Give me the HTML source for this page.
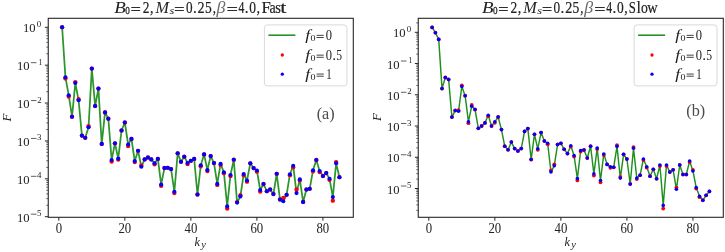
<!DOCTYPE html><html><head><meta charset="utf-8"><style>html,body{margin:0;padding:0;background:#fff;overflow:hidden;}svg{display:block;filter:blur(0.35px);}text{font-family:"Liberation Serif",serif;fill:#222;}.it{font-style:italic;}</style></head><body>
<svg width="725" height="252" viewBox="0 0 725 252">
<rect width="725" height="252" fill="#fff"/>
<polyline points="62.12,27.2 65.42,77.2 68.72,95.2 72.02,116.7 75.32,83 78.62,100.3 81.92,135.6 85.23,137.8 88.53,127.2 91.83,68.6 95.13,106 98.43,88.6 101.73,143.9 105.03,112.4 108.34,118.7 111.64,160 114.94,143.3 118.24,158.6 121.54,130.5 124.84,122.5 128.14,144.5 131.45,138.9 134.75,161.1 138.05,150.8 141.35,166.7 144.65,159.4 147.95,157.5 151.25,159.4 154.56,163.3 157.86,158.9 161.16,184.6 164.46,168 167.76,167.8 171.06,169.1 174.36,191.7 177.67,153.3 180.97,161.8 184.27,156.7 187.57,163 190.87,160.8 194.17,158.9 197.47,194.5 200.78,165.3 204.08,154.4 207.38,170 210.68,156.1 213.98,163.1 217.28,183.9 220.58,163.9 223.88,172.2 227.19,206.4 230.49,175 233.79,159.7 237.09,202.6 240.39,196.4 243.69,174 246.99,180.5 250.3,163.3 253.6,168.1 256.9,170.5 260.2,190 263.5,184 266.8,191.2 270.1,189.5 273.41,194 276.71,173.8 280.01,199.5 283.31,201.2 286.61,194.8 289.91,174.2 293.21,165.7 296.52,193.1 299.82,179.4 303.12,201.9 306.42,189.5 309.72,188.8 313.02,170.3 316.32,160 319.63,171 322.93,176 326.23,173.1 329.53,178.8 332.83,197.1 336.13,163.3 339.43,177.2" fill="none" stroke="#2c952c" stroke-width="1.75" stroke-linejoin="round"/>
<circle cx="62.12" cy="27.2" r="2.17" fill="#f00"/>
<circle cx="65.42" cy="78.4" r="2.17" fill="#f00"/>
<circle cx="68.72" cy="96.5" r="2.17" fill="#f00"/>
<circle cx="72.02" cy="116.7" r="2.17" fill="#f00"/>
<circle cx="75.32" cy="82.1" r="2.17" fill="#f00"/>
<circle cx="78.62" cy="99.2" r="2.17" fill="#f00"/>
<circle cx="81.92" cy="135.6" r="2.17" fill="#f00"/>
<circle cx="85.23" cy="137.8" r="2.17" fill="#f00"/>
<circle cx="88.53" cy="126.2" r="2.17" fill="#f00"/>
<circle cx="91.83" cy="68.6" r="2.17" fill="#f00"/>
<circle cx="95.13" cy="106" r="2.17" fill="#f00"/>
<circle cx="98.43" cy="88.6" r="2.17" fill="#f00"/>
<circle cx="101.73" cy="143.9" r="2.17" fill="#f00"/>
<circle cx="105.03" cy="112.4" r="2.17" fill="#f00"/>
<circle cx="108.34" cy="118.7" r="2.17" fill="#f00"/>
<circle cx="111.64" cy="161.5" r="2.17" fill="#f00"/>
<circle cx="114.94" cy="143.3" r="2.17" fill="#f00"/>
<circle cx="118.24" cy="159.6" r="2.17" fill="#f00"/>
<circle cx="121.54" cy="130.5" r="2.17" fill="#f00"/>
<circle cx="124.84" cy="122.5" r="2.17" fill="#f00"/>
<circle cx="128.14" cy="146" r="2.17" fill="#f00"/>
<circle cx="131.45" cy="138.9" r="2.17" fill="#f00"/>
<circle cx="134.75" cy="162.1" r="2.17" fill="#f00"/>
<circle cx="138.05" cy="150.8" r="2.17" fill="#f00"/>
<circle cx="141.35" cy="165.5" r="2.17" fill="#f00"/>
<circle cx="144.65" cy="159.4" r="2.17" fill="#f00"/>
<circle cx="147.95" cy="157.5" r="2.17" fill="#f00"/>
<circle cx="151.25" cy="159.4" r="2.17" fill="#f00"/>
<circle cx="154.56" cy="164.3" r="2.17" fill="#f00"/>
<circle cx="157.86" cy="158.9" r="2.17" fill="#f00"/>
<circle cx="161.16" cy="185.8" r="2.17" fill="#f00"/>
<circle cx="164.46" cy="168" r="2.17" fill="#f00"/>
<circle cx="167.76" cy="167.8" r="2.17" fill="#f00"/>
<circle cx="171.06" cy="169.1" r="2.17" fill="#f00"/>
<circle cx="174.36" cy="193" r="2.17" fill="#f00"/>
<circle cx="177.67" cy="153.3" r="2.17" fill="#f00"/>
<circle cx="180.97" cy="161.8" r="2.17" fill="#f00"/>
<circle cx="184.27" cy="156.7" r="2.17" fill="#f00"/>
<circle cx="187.57" cy="164" r="2.17" fill="#f00"/>
<circle cx="190.87" cy="160.8" r="2.17" fill="#f00"/>
<circle cx="194.17" cy="158.9" r="2.17" fill="#f00"/>
<circle cx="197.47" cy="194.5" r="2.17" fill="#f00"/>
<circle cx="200.78" cy="166.3" r="2.17" fill="#f00"/>
<circle cx="204.08" cy="154.4" r="2.17" fill="#f00"/>
<circle cx="207.38" cy="171" r="2.17" fill="#f00"/>
<circle cx="210.68" cy="156.1" r="2.17" fill="#f00"/>
<circle cx="213.98" cy="163.1" r="2.17" fill="#f00"/>
<circle cx="217.28" cy="184.9" r="2.17" fill="#f00"/>
<circle cx="220.58" cy="164.9" r="2.17" fill="#f00"/>
<circle cx="223.88" cy="173.2" r="2.17" fill="#f00"/>
<circle cx="227.19" cy="208.6" r="2.17" fill="#f00"/>
<circle cx="230.49" cy="176" r="2.17" fill="#f00"/>
<circle cx="233.79" cy="159.7" r="2.17" fill="#f00"/>
<circle cx="237.09" cy="202.1" r="2.17" fill="#f00"/>
<circle cx="240.39" cy="195.2" r="2.17" fill="#f00"/>
<circle cx="243.69" cy="175.2" r="2.17" fill="#f00"/>
<circle cx="246.99" cy="181.7" r="2.17" fill="#f00"/>
<circle cx="250.3" cy="163.3" r="2.17" fill="#f00"/>
<circle cx="253.6" cy="168.1" r="2.17" fill="#f00"/>
<circle cx="256.9" cy="171.5" r="2.17" fill="#f00"/>
<circle cx="260.2" cy="191.5" r="2.17" fill="#f00"/>
<circle cx="263.5" cy="184" r="2.17" fill="#f00"/>
<circle cx="266.8" cy="191.2" r="2.17" fill="#f00"/>
<circle cx="270.1" cy="189.5" r="2.17" fill="#f00"/>
<circle cx="273.41" cy="194" r="2.17" fill="#f00"/>
<circle cx="276.71" cy="173.8" r="2.17" fill="#f00"/>
<circle cx="280.01" cy="199.5" r="2.17" fill="#f00"/>
<circle cx="283.31" cy="197.9" r="2.17" fill="#f00"/>
<circle cx="286.61" cy="194.8" r="2.17" fill="#f00"/>
<circle cx="289.91" cy="175.2" r="2.17" fill="#f00"/>
<circle cx="293.21" cy="167.2" r="2.17" fill="#f00"/>
<circle cx="296.52" cy="189.5" r="2.17" fill="#f00"/>
<circle cx="299.82" cy="180.4" r="2.17" fill="#f00"/>
<circle cx="303.12" cy="201.9" r="2.17" fill="#f00"/>
<circle cx="306.42" cy="189.5" r="2.17" fill="#f00"/>
<circle cx="309.72" cy="188.8" r="2.17" fill="#f00"/>
<circle cx="313.02" cy="171.3" r="2.17" fill="#f00"/>
<circle cx="316.32" cy="160" r="2.17" fill="#f00"/>
<circle cx="319.63" cy="172" r="2.17" fill="#f00"/>
<circle cx="322.93" cy="176" r="2.17" fill="#f00"/>
<circle cx="326.23" cy="173.1" r="2.17" fill="#f00"/>
<circle cx="329.53" cy="179.8" r="2.17" fill="#f00"/>
<circle cx="332.83" cy="200.7" r="2.17" fill="#f00"/>
<circle cx="336.13" cy="162.1" r="2.17" fill="#f00"/>
<circle cx="339.43" cy="177.2" r="2.17" fill="#f00"/>
<circle cx="62.12" cy="27.2" r="2.05" fill="#00f"/>
<circle cx="65.42" cy="77.2" r="2.05" fill="#00f"/>
<circle cx="68.72" cy="95.2" r="2.05" fill="#00f"/>
<circle cx="72.02" cy="116.7" r="2.05" fill="#00f"/>
<circle cx="75.32" cy="83" r="2.05" fill="#00f"/>
<circle cx="78.62" cy="100.3" r="2.05" fill="#00f"/>
<circle cx="81.92" cy="135.6" r="2.05" fill="#00f"/>
<circle cx="85.23" cy="137.8" r="2.05" fill="#00f"/>
<circle cx="88.53" cy="127.2" r="2.05" fill="#00f"/>
<circle cx="91.83" cy="68.6" r="2.05" fill="#00f"/>
<circle cx="95.13" cy="106" r="2.05" fill="#00f"/>
<circle cx="98.43" cy="88.6" r="2.05" fill="#00f"/>
<circle cx="101.73" cy="143.9" r="2.05" fill="#00f"/>
<circle cx="105.03" cy="112.4" r="2.05" fill="#00f"/>
<circle cx="108.34" cy="118.7" r="2.05" fill="#00f"/>
<circle cx="111.64" cy="160" r="2.05" fill="#00f"/>
<circle cx="114.94" cy="143.3" r="2.05" fill="#00f"/>
<circle cx="118.24" cy="158.6" r="2.05" fill="#00f"/>
<circle cx="121.54" cy="130.5" r="2.05" fill="#00f"/>
<circle cx="124.84" cy="122.5" r="2.05" fill="#00f"/>
<circle cx="128.14" cy="144.5" r="2.05" fill="#00f"/>
<circle cx="131.45" cy="138.9" r="2.05" fill="#00f"/>
<circle cx="134.75" cy="161.1" r="2.05" fill="#00f"/>
<circle cx="138.05" cy="150.8" r="2.05" fill="#00f"/>
<circle cx="141.35" cy="166.7" r="2.05" fill="#00f"/>
<circle cx="144.65" cy="159.4" r="2.05" fill="#00f"/>
<circle cx="147.95" cy="157.5" r="2.05" fill="#00f"/>
<circle cx="151.25" cy="159.4" r="2.05" fill="#00f"/>
<circle cx="154.56" cy="163.3" r="2.05" fill="#00f"/>
<circle cx="157.86" cy="158.9" r="2.05" fill="#00f"/>
<circle cx="161.16" cy="184.6" r="2.05" fill="#00f"/>
<circle cx="164.46" cy="168" r="2.05" fill="#00f"/>
<circle cx="167.76" cy="167.8" r="2.05" fill="#00f"/>
<circle cx="171.06" cy="169.1" r="2.05" fill="#00f"/>
<circle cx="174.36" cy="191.7" r="2.05" fill="#00f"/>
<circle cx="177.67" cy="153.3" r="2.05" fill="#00f"/>
<circle cx="180.97" cy="161.8" r="2.05" fill="#00f"/>
<circle cx="184.27" cy="156.7" r="2.05" fill="#00f"/>
<circle cx="187.57" cy="163" r="2.05" fill="#00f"/>
<circle cx="190.87" cy="160.8" r="2.05" fill="#00f"/>
<circle cx="194.17" cy="158.9" r="2.05" fill="#00f"/>
<circle cx="197.47" cy="194.5" r="2.05" fill="#00f"/>
<circle cx="200.78" cy="165.3" r="2.05" fill="#00f"/>
<circle cx="204.08" cy="154.4" r="2.05" fill="#00f"/>
<circle cx="207.38" cy="170" r="2.05" fill="#00f"/>
<circle cx="210.68" cy="156.1" r="2.05" fill="#00f"/>
<circle cx="213.98" cy="163.1" r="2.05" fill="#00f"/>
<circle cx="217.28" cy="183.9" r="2.05" fill="#00f"/>
<circle cx="220.58" cy="163.9" r="2.05" fill="#00f"/>
<circle cx="223.88" cy="172.2" r="2.05" fill="#00f"/>
<circle cx="227.19" cy="206.4" r="2.05" fill="#00f"/>
<circle cx="230.49" cy="175" r="2.05" fill="#00f"/>
<circle cx="233.79" cy="159.7" r="2.05" fill="#00f"/>
<circle cx="237.09" cy="202.6" r="2.05" fill="#00f"/>
<circle cx="240.39" cy="196.4" r="2.05" fill="#00f"/>
<circle cx="243.69" cy="174" r="2.05" fill="#00f"/>
<circle cx="246.99" cy="180.5" r="2.05" fill="#00f"/>
<circle cx="250.3" cy="163.3" r="2.05" fill="#00f"/>
<circle cx="253.6" cy="168.1" r="2.05" fill="#00f"/>
<circle cx="256.9" cy="170.5" r="2.05" fill="#00f"/>
<circle cx="260.2" cy="190" r="2.05" fill="#00f"/>
<circle cx="263.5" cy="184" r="2.05" fill="#00f"/>
<circle cx="266.8" cy="191.2" r="2.05" fill="#00f"/>
<circle cx="270.1" cy="189.5" r="2.05" fill="#00f"/>
<circle cx="273.41" cy="194" r="2.05" fill="#00f"/>
<circle cx="276.71" cy="173.8" r="2.05" fill="#00f"/>
<circle cx="280.01" cy="199.5" r="2.05" fill="#00f"/>
<circle cx="283.31" cy="201.2" r="2.05" fill="#00f"/>
<circle cx="286.61" cy="194.8" r="2.05" fill="#00f"/>
<circle cx="289.91" cy="174.2" r="2.05" fill="#00f"/>
<circle cx="293.21" cy="165.7" r="2.05" fill="#00f"/>
<circle cx="296.52" cy="193.1" r="2.05" fill="#00f"/>
<circle cx="299.82" cy="179.4" r="2.05" fill="#00f"/>
<circle cx="303.12" cy="201.9" r="2.05" fill="#00f"/>
<circle cx="306.42" cy="189.5" r="2.05" fill="#00f"/>
<circle cx="309.72" cy="188.8" r="2.05" fill="#00f"/>
<circle cx="313.02" cy="170.3" r="2.05" fill="#00f"/>
<circle cx="316.32" cy="160" r="2.05" fill="#00f"/>
<circle cx="319.63" cy="171" r="2.05" fill="#00f"/>
<circle cx="322.93" cy="176" r="2.05" fill="#00f"/>
<circle cx="326.23" cy="173.1" r="2.05" fill="#00f"/>
<circle cx="329.53" cy="178.8" r="2.05" fill="#00f"/>
<circle cx="332.83" cy="197.1" r="2.05" fill="#00f"/>
<circle cx="336.13" cy="163.3" r="2.05" fill="#00f"/>
<circle cx="339.43" cy="177.2" r="2.05" fill="#00f"/>
<rect x="48.25" y="18.3" width="305.05" height="199" fill="none" stroke="#262626" stroke-width="1.1"/>
<line x1="58.81" y1="217.3" x2="58.81" y2="220.7" stroke="#262626" stroke-width="1"/>
<line x1="124.84" y1="217.3" x2="124.84" y2="220.7" stroke="#262626" stroke-width="1"/>
<line x1="190.87" y1="217.3" x2="190.87" y2="220.7" stroke="#262626" stroke-width="1"/>
<line x1="256.9" y1="217.3" x2="256.9" y2="220.7" stroke="#262626" stroke-width="1"/>
<line x1="322.93" y1="217.3" x2="322.93" y2="220.7" stroke="#262626" stroke-width="1"/>
<line x1="44.85" y1="27.3" x2="48.25" y2="27.3" stroke="#262626" stroke-width="1"/>
<line x1="44.85" y1="65.18" x2="48.25" y2="65.18" stroke="#262626" stroke-width="1"/>
<line x1="30.95" y1="62.68" x2="36.45" y2="62.68" stroke="#222" stroke-width="0.72"/>
<line x1="44.85" y1="103.06" x2="48.25" y2="103.06" stroke="#262626" stroke-width="1"/>
<line x1="30.95" y1="100.56" x2="36.45" y2="100.56" stroke="#222" stroke-width="0.72"/>
<line x1="44.85" y1="140.94" x2="48.25" y2="140.94" stroke="#262626" stroke-width="1"/>
<line x1="30.95" y1="138.44" x2="36.45" y2="138.44" stroke="#222" stroke-width="0.72"/>
<line x1="44.85" y1="178.82" x2="48.25" y2="178.82" stroke="#262626" stroke-width="1"/>
<line x1="30.95" y1="176.32" x2="36.45" y2="176.32" stroke="#222" stroke-width="0.72"/>
<line x1="44.85" y1="216.7" x2="48.25" y2="216.7" stroke="#262626" stroke-width="1"/>
<line x1="30.95" y1="214.2" x2="36.45" y2="214.2" stroke="#222" stroke-width="0.72"/>
<line x1="46.25" y1="53.78" x2="48.25" y2="53.78" stroke="#262626" stroke-width="0.7"/>
<line x1="46.25" y1="47.11" x2="48.25" y2="47.11" stroke="#262626" stroke-width="0.7"/>
<line x1="46.25" y1="42.37" x2="48.25" y2="42.37" stroke="#262626" stroke-width="0.7"/>
<line x1="46.25" y1="38.7" x2="48.25" y2="38.7" stroke="#262626" stroke-width="0.7"/>
<line x1="46.25" y1="35.7" x2="48.25" y2="35.7" stroke="#262626" stroke-width="0.7"/>
<line x1="46.25" y1="33.17" x2="48.25" y2="33.17" stroke="#262626" stroke-width="0.7"/>
<line x1="46.25" y1="30.97" x2="48.25" y2="30.97" stroke="#262626" stroke-width="0.7"/>
<line x1="46.25" y1="29.03" x2="48.25" y2="29.03" stroke="#262626" stroke-width="0.7"/>
<line x1="46.25" y1="91.66" x2="48.25" y2="91.66" stroke="#262626" stroke-width="0.7"/>
<line x1="46.25" y1="84.99" x2="48.25" y2="84.99" stroke="#262626" stroke-width="0.7"/>
<line x1="46.25" y1="80.25" x2="48.25" y2="80.25" stroke="#262626" stroke-width="0.7"/>
<line x1="46.25" y1="76.58" x2="48.25" y2="76.58" stroke="#262626" stroke-width="0.7"/>
<line x1="46.25" y1="73.58" x2="48.25" y2="73.58" stroke="#262626" stroke-width="0.7"/>
<line x1="46.25" y1="71.05" x2="48.25" y2="71.05" stroke="#262626" stroke-width="0.7"/>
<line x1="46.25" y1="68.85" x2="48.25" y2="68.85" stroke="#262626" stroke-width="0.7"/>
<line x1="46.25" y1="66.91" x2="48.25" y2="66.91" stroke="#262626" stroke-width="0.7"/>
<line x1="46.25" y1="129.54" x2="48.25" y2="129.54" stroke="#262626" stroke-width="0.7"/>
<line x1="46.25" y1="122.87" x2="48.25" y2="122.87" stroke="#262626" stroke-width="0.7"/>
<line x1="46.25" y1="118.13" x2="48.25" y2="118.13" stroke="#262626" stroke-width="0.7"/>
<line x1="46.25" y1="114.46" x2="48.25" y2="114.46" stroke="#262626" stroke-width="0.7"/>
<line x1="46.25" y1="111.46" x2="48.25" y2="111.46" stroke="#262626" stroke-width="0.7"/>
<line x1="46.25" y1="108.93" x2="48.25" y2="108.93" stroke="#262626" stroke-width="0.7"/>
<line x1="46.25" y1="106.73" x2="48.25" y2="106.73" stroke="#262626" stroke-width="0.7"/>
<line x1="46.25" y1="104.79" x2="48.25" y2="104.79" stroke="#262626" stroke-width="0.7"/>
<line x1="46.25" y1="167.42" x2="48.25" y2="167.42" stroke="#262626" stroke-width="0.7"/>
<line x1="46.25" y1="160.75" x2="48.25" y2="160.75" stroke="#262626" stroke-width="0.7"/>
<line x1="46.25" y1="156.01" x2="48.25" y2="156.01" stroke="#262626" stroke-width="0.7"/>
<line x1="46.25" y1="152.34" x2="48.25" y2="152.34" stroke="#262626" stroke-width="0.7"/>
<line x1="46.25" y1="149.34" x2="48.25" y2="149.34" stroke="#262626" stroke-width="0.7"/>
<line x1="46.25" y1="146.81" x2="48.25" y2="146.81" stroke="#262626" stroke-width="0.7"/>
<line x1="46.25" y1="144.61" x2="48.25" y2="144.61" stroke="#262626" stroke-width="0.7"/>
<line x1="46.25" y1="142.67" x2="48.25" y2="142.67" stroke="#262626" stroke-width="0.7"/>
<line x1="46.25" y1="205.3" x2="48.25" y2="205.3" stroke="#262626" stroke-width="0.7"/>
<line x1="46.25" y1="198.63" x2="48.25" y2="198.63" stroke="#262626" stroke-width="0.7"/>
<line x1="46.25" y1="193.89" x2="48.25" y2="193.89" stroke="#262626" stroke-width="0.7"/>
<line x1="46.25" y1="190.22" x2="48.25" y2="190.22" stroke="#262626" stroke-width="0.7"/>
<line x1="46.25" y1="187.22" x2="48.25" y2="187.22" stroke="#262626" stroke-width="0.7"/>
<line x1="46.25" y1="184.69" x2="48.25" y2="184.69" stroke="#262626" stroke-width="0.7"/>
<line x1="46.25" y1="182.49" x2="48.25" y2="182.49" stroke="#262626" stroke-width="0.7"/>
<line x1="46.25" y1="180.55" x2="48.25" y2="180.55" stroke="#262626" stroke-width="0.7"/>
<rect x="264.4" y="24.9" width="82.5" height="61" rx="3" fill="#fff" fill-opacity="0.8" stroke="#d9d9d9" stroke-width="1"/>
<line x1="268.4" y1="35.2" x2="295.4" y2="35.2" stroke="#1c8c1c" stroke-width="1.5"/>
<circle cx="282.3" cy="55" r="1.65" fill="#f00"/>
<circle cx="282.3" cy="74.2" r="1.65" fill="#00f"/>
<text x="325.7" y="118.6" font-size="16.2" text-anchor="middle" style="fill:#4a4a4a">(a)</text>
<text class="it" transform="translate(10.8,117.5) rotate(-90)" font-size="13" text-anchor="middle">F</text>
<polyline points="432.12,27.4 435.42,32.7 438.72,39.4 442.02,88.6 445.32,77.5 448.62,79.5 451.92,117.1 455.23,110.5 458.53,111.2 461.83,86.5 465.13,95.7 468.43,121.7 471.73,106.2 475.03,109.5 478.34,128.3 481.64,126 484.94,122.9 488.24,115.2 491.54,126 494.84,121.8 498.14,117 501.45,129.6 504.75,146.2 508.05,149.8 511.35,142.1 514.65,148.6 517.95,151 521.25,148.6 524.56,131.4 527.86,128.6 531.16,159.5 534.46,134.3 537.76,148.8 541.06,132.6 544.36,141 547.67,143.3 550.97,171.9 554.27,165.8 557.57,144.5 560.87,143.3 564.17,149.3 567.47,153.6 570.77,145.7 574.08,155.6 577.38,178.6 580.68,150.5 583.98,150 587.28,158 590.58,146.2 593.88,173.8 597.19,148.1 600.49,180.5 603.79,154 607.09,164.4 610.39,166.8 613.69,167.3 616.99,146.4 620.3,178.1 623.6,154.3 626.9,159 630.2,184 633.5,148.3 636.8,178.1 640.1,175.2 643.41,159 646.71,166.7 650.01,176.2 653.31,169.3 656.61,178.8 659.91,165 663.21,205.4 666.52,165 669.82,172.1 673.12,169.8 676.42,189.3 679.72,165 683.02,174.5 686.32,174.5 689.63,161 692.93,171 696.23,187.6 699.53,196.2 702.83,200.3 706.13,195.3 709.43,191.4" fill="none" stroke="#1f8f1f" stroke-width="1.45" stroke-linejoin="round"/>
<circle cx="432.12" cy="27.4" r="1.92" fill="#f00"/>
<circle cx="435.42" cy="32.7" r="1.92" fill="#f00"/>
<circle cx="438.72" cy="39.4" r="1.92" fill="#f00"/>
<circle cx="442.02" cy="88.6" r="1.92" fill="#f00"/>
<circle cx="445.32" cy="77.5" r="1.92" fill="#f00"/>
<circle cx="448.62" cy="79.5" r="1.92" fill="#f00"/>
<circle cx="451.92" cy="117.1" r="1.92" fill="#f00"/>
<circle cx="455.23" cy="110.5" r="1.92" fill="#f00"/>
<circle cx="458.53" cy="110.2" r="1.92" fill="#f00"/>
<circle cx="461.83" cy="85.3" r="1.92" fill="#f00"/>
<circle cx="465.13" cy="95.7" r="1.92" fill="#f00"/>
<circle cx="468.43" cy="123.2" r="1.92" fill="#f00"/>
<circle cx="471.73" cy="105" r="1.92" fill="#f00"/>
<circle cx="475.03" cy="109.5" r="1.92" fill="#f00"/>
<circle cx="478.34" cy="128.3" r="1.92" fill="#f00"/>
<circle cx="481.64" cy="126" r="1.92" fill="#f00"/>
<circle cx="484.94" cy="122.9" r="1.92" fill="#f00"/>
<circle cx="488.24" cy="116.2" r="1.92" fill="#f00"/>
<circle cx="491.54" cy="126" r="1.92" fill="#f00"/>
<circle cx="494.84" cy="122.8" r="1.92" fill="#f00"/>
<circle cx="498.14" cy="117" r="1.92" fill="#f00"/>
<circle cx="501.45" cy="129.6" r="1.92" fill="#f00"/>
<circle cx="504.75" cy="146.2" r="1.92" fill="#f00"/>
<circle cx="508.05" cy="149.8" r="1.92" fill="#f00"/>
<circle cx="511.35" cy="142.1" r="1.92" fill="#f00"/>
<circle cx="514.65" cy="148.6" r="1.92" fill="#f00"/>
<circle cx="517.95" cy="151" r="1.92" fill="#f00"/>
<circle cx="521.25" cy="148.6" r="1.92" fill="#f00"/>
<circle cx="524.56" cy="131.4" r="1.92" fill="#f00"/>
<circle cx="527.86" cy="128.6" r="1.92" fill="#f00"/>
<circle cx="531.16" cy="159.5" r="1.92" fill="#f00"/>
<circle cx="534.46" cy="134.3" r="1.92" fill="#f00"/>
<circle cx="537.76" cy="149.8" r="1.92" fill="#f00"/>
<circle cx="541.06" cy="132.6" r="1.92" fill="#f00"/>
<circle cx="544.36" cy="141" r="1.92" fill="#f00"/>
<circle cx="547.67" cy="144.3" r="1.92" fill="#f00"/>
<circle cx="550.97" cy="170.4" r="1.92" fill="#f00"/>
<circle cx="554.27" cy="164.3" r="1.92" fill="#f00"/>
<circle cx="557.57" cy="144.5" r="1.92" fill="#f00"/>
<circle cx="560.87" cy="143.3" r="1.92" fill="#f00"/>
<circle cx="564.17" cy="149.3" r="1.92" fill="#f00"/>
<circle cx="567.47" cy="153.6" r="1.92" fill="#f00"/>
<circle cx="570.77" cy="146.7" r="1.92" fill="#f00"/>
<circle cx="574.08" cy="156.6" r="1.92" fill="#f00"/>
<circle cx="577.38" cy="180.4" r="1.92" fill="#f00"/>
<circle cx="580.68" cy="151.5" r="1.92" fill="#f00"/>
<circle cx="583.98" cy="150" r="1.92" fill="#f00"/>
<circle cx="587.28" cy="158" r="1.92" fill="#f00"/>
<circle cx="590.58" cy="146.2" r="1.92" fill="#f00"/>
<circle cx="593.88" cy="175.6" r="1.92" fill="#f00"/>
<circle cx="597.19" cy="149.1" r="1.92" fill="#f00"/>
<circle cx="600.49" cy="182.3" r="1.92" fill="#f00"/>
<circle cx="603.79" cy="155" r="1.92" fill="#f00"/>
<circle cx="607.09" cy="164.4" r="1.92" fill="#f00"/>
<circle cx="610.39" cy="167.8" r="1.92" fill="#f00"/>
<circle cx="613.69" cy="167.3" r="1.92" fill="#f00"/>
<circle cx="616.99" cy="145.2" r="1.92" fill="#f00"/>
<circle cx="620.3" cy="176.9" r="1.92" fill="#f00"/>
<circle cx="623.6" cy="154.3" r="1.92" fill="#f00"/>
<circle cx="626.9" cy="159" r="1.92" fill="#f00"/>
<circle cx="630.2" cy="184" r="1.92" fill="#f00"/>
<circle cx="633.5" cy="147.1" r="1.92" fill="#f00"/>
<circle cx="636.8" cy="179.1" r="1.92" fill="#f00"/>
<circle cx="640.1" cy="175.2" r="1.92" fill="#f00"/>
<circle cx="643.41" cy="160" r="1.92" fill="#f00"/>
<circle cx="646.71" cy="167.7" r="1.92" fill="#f00"/>
<circle cx="650.01" cy="176.2" r="1.92" fill="#f00"/>
<circle cx="653.31" cy="169.3" r="1.92" fill="#f00"/>
<circle cx="656.61" cy="178.8" r="1.92" fill="#f00"/>
<circle cx="659.91" cy="166" r="1.92" fill="#f00"/>
<circle cx="663.21" cy="208.6" r="1.92" fill="#f00"/>
<circle cx="666.52" cy="166" r="1.92" fill="#f00"/>
<circle cx="669.82" cy="172.1" r="1.92" fill="#f00"/>
<circle cx="673.12" cy="169.8" r="1.92" fill="#f00"/>
<circle cx="676.42" cy="187.6" r="1.92" fill="#f00"/>
<circle cx="679.72" cy="165" r="1.92" fill="#f00"/>
<circle cx="683.02" cy="174.5" r="1.92" fill="#f00"/>
<circle cx="686.32" cy="174.5" r="1.92" fill="#f00"/>
<circle cx="689.63" cy="162" r="1.92" fill="#f00"/>
<circle cx="692.93" cy="170" r="1.92" fill="#f00"/>
<circle cx="696.23" cy="188.6" r="1.92" fill="#f00"/>
<circle cx="699.53" cy="197.2" r="1.92" fill="#f00"/>
<circle cx="702.83" cy="200.3" r="1.92" fill="#f00"/>
<circle cx="706.13" cy="195.3" r="1.92" fill="#f00"/>
<circle cx="709.43" cy="191.4" r="1.92" fill="#f00"/>
<circle cx="432.12" cy="27.4" r="1.8" fill="#00f"/>
<circle cx="435.42" cy="32.7" r="1.8" fill="#00f"/>
<circle cx="438.72" cy="39.4" r="1.8" fill="#00f"/>
<circle cx="442.02" cy="88.6" r="1.8" fill="#00f"/>
<circle cx="445.32" cy="77.5" r="1.8" fill="#00f"/>
<circle cx="448.62" cy="79.5" r="1.8" fill="#00f"/>
<circle cx="451.92" cy="117.1" r="1.8" fill="#00f"/>
<circle cx="455.23" cy="110.5" r="1.8" fill="#00f"/>
<circle cx="458.53" cy="111.2" r="1.8" fill="#00f"/>
<circle cx="461.83" cy="86.5" r="1.8" fill="#00f"/>
<circle cx="465.13" cy="95.7" r="1.8" fill="#00f"/>
<circle cx="468.43" cy="121.7" r="1.8" fill="#00f"/>
<circle cx="471.73" cy="106.2" r="1.8" fill="#00f"/>
<circle cx="475.03" cy="109.5" r="1.8" fill="#00f"/>
<circle cx="478.34" cy="128.3" r="1.8" fill="#00f"/>
<circle cx="481.64" cy="126" r="1.8" fill="#00f"/>
<circle cx="484.94" cy="122.9" r="1.8" fill="#00f"/>
<circle cx="488.24" cy="115.2" r="1.8" fill="#00f"/>
<circle cx="491.54" cy="126" r="1.8" fill="#00f"/>
<circle cx="494.84" cy="121.8" r="1.8" fill="#00f"/>
<circle cx="498.14" cy="117" r="1.8" fill="#00f"/>
<circle cx="501.45" cy="129.6" r="1.8" fill="#00f"/>
<circle cx="504.75" cy="146.2" r="1.8" fill="#00f"/>
<circle cx="508.05" cy="149.8" r="1.8" fill="#00f"/>
<circle cx="511.35" cy="142.1" r="1.8" fill="#00f"/>
<circle cx="514.65" cy="148.6" r="1.8" fill="#00f"/>
<circle cx="517.95" cy="151" r="1.8" fill="#00f"/>
<circle cx="521.25" cy="148.6" r="1.8" fill="#00f"/>
<circle cx="524.56" cy="131.4" r="1.8" fill="#00f"/>
<circle cx="527.86" cy="128.6" r="1.8" fill="#00f"/>
<circle cx="531.16" cy="159.5" r="1.8" fill="#00f"/>
<circle cx="534.46" cy="134.3" r="1.8" fill="#00f"/>
<circle cx="537.76" cy="148.8" r="1.8" fill="#00f"/>
<circle cx="541.06" cy="132.6" r="1.8" fill="#00f"/>
<circle cx="544.36" cy="141" r="1.8" fill="#00f"/>
<circle cx="547.67" cy="143.3" r="1.8" fill="#00f"/>
<circle cx="550.97" cy="171.9" r="1.8" fill="#00f"/>
<circle cx="554.27" cy="165.8" r="1.8" fill="#00f"/>
<circle cx="557.57" cy="144.5" r="1.8" fill="#00f"/>
<circle cx="560.87" cy="143.3" r="1.8" fill="#00f"/>
<circle cx="564.17" cy="149.3" r="1.8" fill="#00f"/>
<circle cx="567.47" cy="153.6" r="1.8" fill="#00f"/>
<circle cx="570.77" cy="145.7" r="1.8" fill="#00f"/>
<circle cx="574.08" cy="155.6" r="1.8" fill="#00f"/>
<circle cx="577.38" cy="178.6" r="1.8" fill="#00f"/>
<circle cx="580.68" cy="150.5" r="1.8" fill="#00f"/>
<circle cx="583.98" cy="150" r="1.8" fill="#00f"/>
<circle cx="587.28" cy="158" r="1.8" fill="#00f"/>
<circle cx="590.58" cy="146.2" r="1.8" fill="#00f"/>
<circle cx="593.88" cy="173.8" r="1.8" fill="#00f"/>
<circle cx="597.19" cy="148.1" r="1.8" fill="#00f"/>
<circle cx="600.49" cy="180.5" r="1.8" fill="#00f"/>
<circle cx="603.79" cy="154" r="1.8" fill="#00f"/>
<circle cx="607.09" cy="164.4" r="1.8" fill="#00f"/>
<circle cx="610.39" cy="166.8" r="1.8" fill="#00f"/>
<circle cx="613.69" cy="167.3" r="1.8" fill="#00f"/>
<circle cx="616.99" cy="146.4" r="1.8" fill="#00f"/>
<circle cx="620.3" cy="178.1" r="1.8" fill="#00f"/>
<circle cx="623.6" cy="154.3" r="1.8" fill="#00f"/>
<circle cx="626.9" cy="159" r="1.8" fill="#00f"/>
<circle cx="630.2" cy="184" r="1.8" fill="#00f"/>
<circle cx="633.5" cy="148.3" r="1.8" fill="#00f"/>
<circle cx="636.8" cy="178.1" r="1.8" fill="#00f"/>
<circle cx="640.1" cy="175.2" r="1.8" fill="#00f"/>
<circle cx="643.41" cy="159" r="1.8" fill="#00f"/>
<circle cx="646.71" cy="166.7" r="1.8" fill="#00f"/>
<circle cx="650.01" cy="176.2" r="1.8" fill="#00f"/>
<circle cx="653.31" cy="169.3" r="1.8" fill="#00f"/>
<circle cx="656.61" cy="178.8" r="1.8" fill="#00f"/>
<circle cx="659.91" cy="165" r="1.8" fill="#00f"/>
<circle cx="663.21" cy="205.4" r="1.8" fill="#00f"/>
<circle cx="666.52" cy="165" r="1.8" fill="#00f"/>
<circle cx="669.82" cy="172.1" r="1.8" fill="#00f"/>
<circle cx="673.12" cy="169.8" r="1.8" fill="#00f"/>
<circle cx="676.42" cy="189.3" r="1.8" fill="#00f"/>
<circle cx="679.72" cy="165" r="1.8" fill="#00f"/>
<circle cx="683.02" cy="174.5" r="1.8" fill="#00f"/>
<circle cx="686.32" cy="174.5" r="1.8" fill="#00f"/>
<circle cx="689.63" cy="161" r="1.8" fill="#00f"/>
<circle cx="692.93" cy="171" r="1.8" fill="#00f"/>
<circle cx="696.23" cy="187.6" r="1.8" fill="#00f"/>
<circle cx="699.53" cy="196.2" r="1.8" fill="#00f"/>
<circle cx="702.83" cy="200.3" r="1.8" fill="#00f"/>
<circle cx="706.13" cy="195.3" r="1.8" fill="#00f"/>
<circle cx="709.43" cy="191.4" r="1.8" fill="#00f"/>
<rect x="418.25" y="18.3" width="305.05" height="199" fill="none" stroke="#262626" stroke-width="1.1"/>
<line x1="428.81" y1="217.3" x2="428.81" y2="220.7" stroke="#262626" stroke-width="1"/>
<line x1="494.84" y1="217.3" x2="494.84" y2="220.7" stroke="#262626" stroke-width="1"/>
<line x1="560.87" y1="217.3" x2="560.87" y2="220.7" stroke="#262626" stroke-width="1"/>
<line x1="626.9" y1="217.3" x2="626.9" y2="220.7" stroke="#262626" stroke-width="1"/>
<line x1="692.93" y1="217.3" x2="692.93" y2="220.7" stroke="#262626" stroke-width="1"/>
<line x1="414.85" y1="32.3" x2="418.25" y2="32.3" stroke="#262626" stroke-width="1"/>
<line x1="414.85" y1="63.54" x2="418.25" y2="63.54" stroke="#262626" stroke-width="1"/>
<line x1="400.95" y1="61.04" x2="406.45" y2="61.04" stroke="#222" stroke-width="0.72"/>
<line x1="414.85" y1="94.78" x2="418.25" y2="94.78" stroke="#262626" stroke-width="1"/>
<line x1="400.95" y1="92.28" x2="406.45" y2="92.28" stroke="#222" stroke-width="0.72"/>
<line x1="414.85" y1="126.02" x2="418.25" y2="126.02" stroke="#262626" stroke-width="1"/>
<line x1="400.95" y1="123.52" x2="406.45" y2="123.52" stroke="#222" stroke-width="0.72"/>
<line x1="414.85" y1="157.26" x2="418.25" y2="157.26" stroke="#262626" stroke-width="1"/>
<line x1="400.95" y1="154.76" x2="406.45" y2="154.76" stroke="#222" stroke-width="0.72"/>
<line x1="414.85" y1="188.5" x2="418.25" y2="188.5" stroke="#262626" stroke-width="1"/>
<line x1="400.95" y1="186" x2="406.45" y2="186" stroke="#222" stroke-width="0.72"/>
<line x1="416.25" y1="22.9" x2="418.25" y2="22.9" stroke="#262626" stroke-width="0.7"/>
<line x1="416.25" y1="54.14" x2="418.25" y2="54.14" stroke="#262626" stroke-width="0.7"/>
<line x1="416.25" y1="48.63" x2="418.25" y2="48.63" stroke="#262626" stroke-width="0.7"/>
<line x1="416.25" y1="44.73" x2="418.25" y2="44.73" stroke="#262626" stroke-width="0.7"/>
<line x1="416.25" y1="41.7" x2="418.25" y2="41.7" stroke="#262626" stroke-width="0.7"/>
<line x1="416.25" y1="39.23" x2="418.25" y2="39.23" stroke="#262626" stroke-width="0.7"/>
<line x1="416.25" y1="37.14" x2="418.25" y2="37.14" stroke="#262626" stroke-width="0.7"/>
<line x1="416.25" y1="35.33" x2="418.25" y2="35.33" stroke="#262626" stroke-width="0.7"/>
<line x1="416.25" y1="33.73" x2="418.25" y2="33.73" stroke="#262626" stroke-width="0.7"/>
<line x1="416.25" y1="85.38" x2="418.25" y2="85.38" stroke="#262626" stroke-width="0.7"/>
<line x1="416.25" y1="79.87" x2="418.25" y2="79.87" stroke="#262626" stroke-width="0.7"/>
<line x1="416.25" y1="75.97" x2="418.25" y2="75.97" stroke="#262626" stroke-width="0.7"/>
<line x1="416.25" y1="72.94" x2="418.25" y2="72.94" stroke="#262626" stroke-width="0.7"/>
<line x1="416.25" y1="70.47" x2="418.25" y2="70.47" stroke="#262626" stroke-width="0.7"/>
<line x1="416.25" y1="68.38" x2="418.25" y2="68.38" stroke="#262626" stroke-width="0.7"/>
<line x1="416.25" y1="66.57" x2="418.25" y2="66.57" stroke="#262626" stroke-width="0.7"/>
<line x1="416.25" y1="64.97" x2="418.25" y2="64.97" stroke="#262626" stroke-width="0.7"/>
<line x1="416.25" y1="116.62" x2="418.25" y2="116.62" stroke="#262626" stroke-width="0.7"/>
<line x1="416.25" y1="111.11" x2="418.25" y2="111.11" stroke="#262626" stroke-width="0.7"/>
<line x1="416.25" y1="107.21" x2="418.25" y2="107.21" stroke="#262626" stroke-width="0.7"/>
<line x1="416.25" y1="104.18" x2="418.25" y2="104.18" stroke="#262626" stroke-width="0.7"/>
<line x1="416.25" y1="101.71" x2="418.25" y2="101.71" stroke="#262626" stroke-width="0.7"/>
<line x1="416.25" y1="99.62" x2="418.25" y2="99.62" stroke="#262626" stroke-width="0.7"/>
<line x1="416.25" y1="97.81" x2="418.25" y2="97.81" stroke="#262626" stroke-width="0.7"/>
<line x1="416.25" y1="96.21" x2="418.25" y2="96.21" stroke="#262626" stroke-width="0.7"/>
<line x1="416.25" y1="147.86" x2="418.25" y2="147.86" stroke="#262626" stroke-width="0.7"/>
<line x1="416.25" y1="142.35" x2="418.25" y2="142.35" stroke="#262626" stroke-width="0.7"/>
<line x1="416.25" y1="138.45" x2="418.25" y2="138.45" stroke="#262626" stroke-width="0.7"/>
<line x1="416.25" y1="135.42" x2="418.25" y2="135.42" stroke="#262626" stroke-width="0.7"/>
<line x1="416.25" y1="132.95" x2="418.25" y2="132.95" stroke="#262626" stroke-width="0.7"/>
<line x1="416.25" y1="130.86" x2="418.25" y2="130.86" stroke="#262626" stroke-width="0.7"/>
<line x1="416.25" y1="129.05" x2="418.25" y2="129.05" stroke="#262626" stroke-width="0.7"/>
<line x1="416.25" y1="127.45" x2="418.25" y2="127.45" stroke="#262626" stroke-width="0.7"/>
<line x1="416.25" y1="179.1" x2="418.25" y2="179.1" stroke="#262626" stroke-width="0.7"/>
<line x1="416.25" y1="173.59" x2="418.25" y2="173.59" stroke="#262626" stroke-width="0.7"/>
<line x1="416.25" y1="169.69" x2="418.25" y2="169.69" stroke="#262626" stroke-width="0.7"/>
<line x1="416.25" y1="166.66" x2="418.25" y2="166.66" stroke="#262626" stroke-width="0.7"/>
<line x1="416.25" y1="164.19" x2="418.25" y2="164.19" stroke="#262626" stroke-width="0.7"/>
<line x1="416.25" y1="162.1" x2="418.25" y2="162.1" stroke="#262626" stroke-width="0.7"/>
<line x1="416.25" y1="160.29" x2="418.25" y2="160.29" stroke="#262626" stroke-width="0.7"/>
<line x1="416.25" y1="158.69" x2="418.25" y2="158.69" stroke="#262626" stroke-width="0.7"/>
<line x1="416.25" y1="210.34" x2="418.25" y2="210.34" stroke="#262626" stroke-width="0.7"/>
<line x1="416.25" y1="204.83" x2="418.25" y2="204.83" stroke="#262626" stroke-width="0.7"/>
<line x1="416.25" y1="200.93" x2="418.25" y2="200.93" stroke="#262626" stroke-width="0.7"/>
<line x1="416.25" y1="197.9" x2="418.25" y2="197.9" stroke="#262626" stroke-width="0.7"/>
<line x1="416.25" y1="195.43" x2="418.25" y2="195.43" stroke="#262626" stroke-width="0.7"/>
<line x1="416.25" y1="193.34" x2="418.25" y2="193.34" stroke="#262626" stroke-width="0.7"/>
<line x1="416.25" y1="191.53" x2="418.25" y2="191.53" stroke="#262626" stroke-width="0.7"/>
<line x1="416.25" y1="189.93" x2="418.25" y2="189.93" stroke="#262626" stroke-width="0.7"/>
<rect x="634.1" y="24.9" width="82.9" height="61" rx="3" fill="#fff" fill-opacity="0.8" stroke="#d9d9d9" stroke-width="1"/>
<line x1="638.1" y1="35.2" x2="665.1" y2="35.2" stroke="#1c8c1c" stroke-width="1.5"/>
<circle cx="652" cy="55" r="1.65" fill="#f00"/>
<circle cx="652" cy="74.2" r="1.65" fill="#00f"/>
<text x="695.7" y="116.4" font-size="16.2" text-anchor="middle" style="fill:#4a4a4a">(b)</text>
<text class="it" transform="translate(380.5,117.1) rotate(-90)" font-size="13" text-anchor="middle">F</text>
<text transform="translate(22.93,32.3) scale(0.9581,1)" font-size="13.2">10</text>
<text transform="translate(36.77,26.8) scale(1.1500,1)" font-size="7.7">0</text>
<text transform="translate(17.03,70.18) scale(0.9581,1)" font-size="13.2">10</text>
<text transform="translate(38.4,64.68) scale(1.0000,1)" font-size="7.7">1</text>
<text transform="translate(17.03,108.06) scale(0.9581,1)" font-size="13.2">10</text>
<text transform="translate(37.16,102.56) scale(1.1500,1)" font-size="7.7">2</text>
<text transform="translate(17.03,145.94) scale(0.9581,1)" font-size="13.2">10</text>
<text transform="translate(36.88,140.44) scale(1.1500,1)" font-size="7.7">3</text>
<text transform="translate(17.03,183.82) scale(0.9581,1)" font-size="13.2">10</text>
<text transform="translate(36.88,178.32) scale(1.1500,1)" font-size="7.7">4</text>
<text transform="translate(17.03,221.7) scale(0.9581,1)" font-size="13.2">10</text>
<text transform="translate(36.88,216.2) scale(1.1500,1)" font-size="7.7">5</text>
<text transform="translate(392.93,37.3) scale(0.9581,1)" font-size="13.2">10</text>
<text transform="translate(406.78,31.8) scale(1.1500,1)" font-size="7.7">0</text>
<text transform="translate(387.03,68.54) scale(0.9581,1)" font-size="13.2">10</text>
<text transform="translate(408.4,63.04) scale(1.0000,1)" font-size="7.7">1</text>
<text transform="translate(387.03,99.78) scale(0.9581,1)" font-size="13.2">10</text>
<text transform="translate(407.16,94.28) scale(1.1500,1)" font-size="7.7">2</text>
<text transform="translate(387.03,131.02) scale(0.9581,1)" font-size="13.2">10</text>
<text transform="translate(406.88,125.52) scale(1.1500,1)" font-size="7.7">3</text>
<text transform="translate(387.03,162.26) scale(0.9581,1)" font-size="13.2">10</text>
<text transform="translate(406.88,156.76) scale(1.1500,1)" font-size="7.7">4</text>
<text transform="translate(387.03,193.5) scale(0.9581,1)" font-size="13.2">10</text>
<text transform="translate(406.88,188) scale(1.1500,1)" font-size="7.7">5</text>
<text transform="translate(55.64,233.1) scale(0.9400,1)" font-size="13.6">0</text>
<text transform="translate(118.38,233.1) scale(0.9400,1)" font-size="13.6">20</text>
<text transform="translate(184.53,233.1) scale(0.9400,1)" font-size="13.6">40</text>
<text transform="translate(250.44,233.1) scale(0.9400,1)" font-size="13.6">60</text>
<text transform="translate(316.46,233.1) scale(0.9400,1)" font-size="13.6">80</text>
<text transform="translate(425.64,233.1) scale(0.9400,1)" font-size="13.6">0</text>
<text transform="translate(488.38,233.1) scale(0.9400,1)" font-size="13.6">20</text>
<text transform="translate(554.53,233.1) scale(0.9400,1)" font-size="13.6">40</text>
<text transform="translate(620.44,233.1) scale(0.9400,1)" font-size="13.6">60</text>
<text transform="translate(686.46,233.1) scale(0.9400,1)" font-size="13.6">80</text>
<text transform="translate(114.24,12.6) scale(1.126,1)" font-size="16.8" class="it">B</text>
<text transform="translate(125.2,14.3) scale(0.820,1)" font-size="11.2" stroke="#222" stroke-width="0.25">0</text>
<line x1="131.25" y1="7.5" x2="140.15" y2="7.5" stroke="#222" stroke-width="0.95"/>
<line x1="131.25" y1="10.5" x2="140.15" y2="10.5" stroke="#222" stroke-width="0.95"/>
<text transform="translate(142.7,12.6) scale(0.800,1)" font-size="16.8" stroke="#222" stroke-width="0.2">2</text>
<text transform="translate(150.07,12.6) scale(0.840,1)" font-size="16.8" stroke="#222" stroke-width="0.2">,</text>
<text transform="translate(155.46,12.6) scale(0.964,1)" font-size="16.8" class="it">M</text>
<text transform="translate(169.43,14.3) scale(1.086,1)" font-size="11.2" class="it">s</text>
<line x1="174.85" y1="7.5" x2="183.85" y2="7.5" stroke="#222" stroke-width="0.95"/>
<line x1="174.85" y1="10.5" x2="183.85" y2="10.5" stroke="#222" stroke-width="0.95"/>
<text transform="translate(185.91,12.6) scale(0.786,1)" font-size="16.8" stroke="#222" stroke-width="0.2">0</text>
<text transform="translate(192.9,12.6) scale(0.900,1)" font-size="16.8" stroke="#222" stroke-width="0.2">.</text>
<text transform="translate(197.57,12.6) scale(0.844,1)" font-size="16.8" stroke="#222" stroke-width="0.2">2</text>
<text transform="translate(204.9,12.6) scale(0.800,1)" font-size="16.8" stroke="#222" stroke-width="0.2">5</text>
<text transform="translate(212.63,12.6) scale(0.760,1)" font-size="16.8" stroke="#222" stroke-width="0.2">,</text>
<text transform="translate(216.57,12.6) scale(1.063,1)" font-size="16.8" class="it" style="fill:#6a6a6a">β</text>
<line x1="227.35" y1="7.5" x2="237.05" y2="7.5" stroke="#222" stroke-width="0.95"/>
<line x1="227.35" y1="10.5" x2="237.05" y2="10.5" stroke="#222" stroke-width="0.95"/>
<text transform="translate(238.62,12.6) scale(0.700,1)" font-size="16.8" stroke="#222" stroke-width="0.2">4</text>
<text transform="translate(244.8,12.6) scale(0.900,1)" font-size="16.8" stroke="#222" stroke-width="0.2">.</text>
<text transform="translate(249.2,12.6) scale(0.800,1)" font-size="16.8" stroke="#222" stroke-width="0.2">0</text>
<text transform="translate(256.57,12.6) scale(0.840,1)" font-size="16.8" stroke="#222" stroke-width="0.2">,</text>
<text x="261.55" y="12.6" font-size="16.8" stroke="#222" stroke-width="0.2">F</text>
<text transform="translate(269.48,12.6) scale(0.832,1)" font-size="16.8" stroke="#222" stroke-width="0.2">a</text>
<text transform="translate(275.26,12.6) scale(0.857,1)" font-size="16.8" stroke="#222" stroke-width="0.2">s</text>
<text transform="translate(280.33,12.6) scale(1.333,1)" font-size="16.8" stroke="#222" stroke-width="0.2">t</text>
<text transform="translate(481.94,12.6) scale(1.126,1)" font-size="16.8" class="it">B</text>
<text transform="translate(492.9,14.3) scale(0.820,1)" font-size="11.2" stroke="#222" stroke-width="0.25">0</text>
<line x1="498.95" y1="7.5" x2="507.85" y2="7.5" stroke="#222" stroke-width="0.95"/>
<line x1="498.95" y1="10.5" x2="507.85" y2="10.5" stroke="#222" stroke-width="0.95"/>
<text transform="translate(510.4,12.6) scale(0.800,1)" font-size="16.8" stroke="#222" stroke-width="0.2">2</text>
<text transform="translate(517.77,12.6) scale(0.840,1)" font-size="16.8" stroke="#222" stroke-width="0.2">,</text>
<text transform="translate(523.16,12.6) scale(0.964,1)" font-size="16.8" class="it">M</text>
<text transform="translate(537.13,14.3) scale(1.086,1)" font-size="11.2" class="it">s</text>
<line x1="542.55" y1="7.5" x2="551.55" y2="7.5" stroke="#222" stroke-width="0.95"/>
<line x1="542.55" y1="10.5" x2="551.55" y2="10.5" stroke="#222" stroke-width="0.95"/>
<text transform="translate(553.61,12.6) scale(0.786,1)" font-size="16.8" stroke="#222" stroke-width="0.2">0</text>
<text transform="translate(560.6,12.6) scale(0.900,1)" font-size="16.8" stroke="#222" stroke-width="0.2">.</text>
<text transform="translate(565.27,12.6) scale(0.844,1)" font-size="16.8" stroke="#222" stroke-width="0.2">2</text>
<text transform="translate(572.6,12.6) scale(0.800,1)" font-size="16.8" stroke="#222" stroke-width="0.2">5</text>
<text transform="translate(580.33,12.6) scale(0.760,1)" font-size="16.8" stroke="#222" stroke-width="0.2">,</text>
<text transform="translate(584.27,12.6) scale(1.063,1)" font-size="16.8" class="it" style="fill:#6a6a6a">β</text>
<line x1="595.05" y1="7.5" x2="604.75" y2="7.5" stroke="#222" stroke-width="0.95"/>
<line x1="595.05" y1="10.5" x2="604.75" y2="10.5" stroke="#222" stroke-width="0.95"/>
<text transform="translate(606.33,12.6) scale(0.700,1)" font-size="16.8" stroke="#222" stroke-width="0.2">4</text>
<text transform="translate(612.5,12.6) scale(0.900,1)" font-size="16.8" stroke="#222" stroke-width="0.2">.</text>
<text transform="translate(616.9,12.6) scale(0.800,1)" font-size="16.8" stroke="#222" stroke-width="0.2">0</text>
<text transform="translate(624.27,12.6) scale(0.840,1)" font-size="16.8" stroke="#222" stroke-width="0.2">,</text>
<text transform="translate(628.74,12.6) scale(0.759,1)" font-size="16.8" stroke="#222" stroke-width="0.2">S</text>
<text transform="translate(636.45,12.6) scale(0.945,1)" font-size="16.8" stroke="#222" stroke-width="0.2">l</text>
<text transform="translate(640.89,12.6) scale(0.814,1)" font-size="16.8" stroke="#222" stroke-width="0.2">o</text>
<text transform="translate(647.27,12.6) scale(0.864,1)" font-size="16.8" stroke="#222" stroke-width="0.2">w</text>
<text transform="translate(305.37,39.8) scale(1.320,1)" font-size="13.6" class="it">f</text>
<text transform="translate(310.49,41.1) scale(1.257,1)" font-size="8.0">0</text>
<line x1="316.55" y1="35.35" x2="323.75" y2="35.35" stroke="#222" stroke-width="0.85"/>
<line x1="316.55" y1="37.5" x2="323.75" y2="37.5" stroke="#222" stroke-width="0.85"/>
<text transform="translate(325.64,39.8) scale(0.922,1)" font-size="13.6">0</text>
<text transform="translate(305.37,59.6) scale(1.320,1)" font-size="13.6" class="it">f</text>
<text transform="translate(310.49,60.9) scale(1.257,1)" font-size="8.0">0</text>
<line x1="316.55" y1="55.15" x2="323.75" y2="55.15" stroke="#222" stroke-width="0.85"/>
<line x1="316.55" y1="57.3" x2="323.75" y2="57.3" stroke="#222" stroke-width="0.85"/>
<text transform="translate(325.64,59.6) scale(0.922,1)" font-size="13.6">0</text>
<text transform="translate(332.17,59.6) scale(1.133,1)" font-size="13.6">.</text>
<text transform="translate(336.16,59.6) scale(0.855,1)" font-size="13.6">5</text>
<text transform="translate(305.37,78.5) scale(1.320,1)" font-size="13.6" class="it">f</text>
<text transform="translate(310.49,79.8) scale(1.257,1)" font-size="8.0">0</text>
<line x1="316.55" y1="74.05" x2="323.75" y2="74.05" stroke="#222" stroke-width="0.85"/>
<line x1="316.55" y1="76.2" x2="323.75" y2="76.2" stroke="#222" stroke-width="0.85"/>
<text transform="translate(326.2,78.5) scale(0.800,1)" font-size="13.6">1</text>
<text transform="translate(675.37,39.8) scale(1.320,1)" font-size="13.6" class="it">f</text>
<text transform="translate(680.49,41.1) scale(1.257,1)" font-size="8.0">0</text>
<line x1="686.55" y1="35.35" x2="693.75" y2="35.35" stroke="#222" stroke-width="0.85"/>
<line x1="686.55" y1="37.5" x2="693.75" y2="37.5" stroke="#222" stroke-width="0.85"/>
<text transform="translate(695.64,39.8) scale(0.922,1)" font-size="13.6">0</text>
<text transform="translate(675.37,59.6) scale(1.320,1)" font-size="13.6" class="it">f</text>
<text transform="translate(680.49,60.9) scale(1.257,1)" font-size="8.0">0</text>
<line x1="686.55" y1="55.15" x2="693.75" y2="55.15" stroke="#222" stroke-width="0.85"/>
<line x1="686.55" y1="57.3" x2="693.75" y2="57.3" stroke="#222" stroke-width="0.85"/>
<text transform="translate(695.64,59.6) scale(0.922,1)" font-size="13.6">0</text>
<text transform="translate(702.17,59.6) scale(1.133,1)" font-size="13.6">.</text>
<text transform="translate(706.16,59.6) scale(0.855,1)" font-size="13.6">5</text>
<text transform="translate(675.37,78.5) scale(1.320,1)" font-size="13.6" class="it">f</text>
<text transform="translate(680.49,79.8) scale(1.257,1)" font-size="8.0">0</text>
<line x1="686.55" y1="74.05" x2="693.75" y2="74.05" stroke="#222" stroke-width="0.85"/>
<line x1="686.55" y1="76.2" x2="693.75" y2="76.2" stroke="#222" stroke-width="0.85"/>
<text transform="translate(696.2,78.5) scale(0.800,1)" font-size="13.6">1</text>
<text transform="translate(194.61,246.3) scale(0.989,1)" font-size="12.4" class="it">k</text>
<text transform="translate(201.36,248.1) scale(1.111,1)" font-size="9.4" class="it">y</text>
<text transform="translate(564.51,246.3) scale(0.989,1)" font-size="12.4" class="it">k</text>
<text transform="translate(571.26,248.1) scale(1.111,1)" font-size="9.4" class="it">y</text>
</svg></body></html>
